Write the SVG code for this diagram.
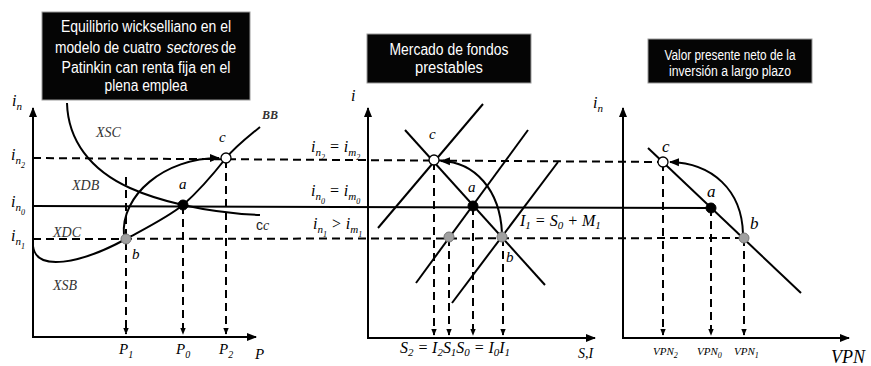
<svg xmlns="http://www.w3.org/2000/svg" width="871" height="366" viewBox="0 0 871 366">
<style>
.ax{stroke:#000;stroke-width:2;fill:none}
.ln{stroke:#000;stroke-width:2;fill:none}
.ds{stroke:#000;stroke-width:2;fill:none;stroke-dasharray:8 5}
.box{fill:#050505;stroke:#9a9a9a;stroke-width:1}
.tt{font-family:"Liberation Sans",Arial,sans-serif;fill:#fff;text-anchor:middle}
.ts{font-family:"Liberation Sans",Arial,sans-serif;fill:#fff}
.m{font-family:"Liberation Serif","DejaVu Serif",serif;font-style:italic;fill:#000}
.lb{font-family:"Liberation Serif","DejaVu Serif",serif;font-style:italic;fill:#333}
.pa{fill:#000;stroke:#000;stroke-width:1}
.pb{fill:#a0a0a0;stroke:#777;stroke-width:1}
.pc{fill:#fff;stroke:#000;stroke-width:1.3}
</style>
<defs>
<marker id="ah" viewBox="0 0 10 10" refX="9" refY="5" markerWidth="5" markerHeight="5" orient="auto"><path d="M0,1 L10,5 L0,9z" fill="#000"/></marker>
<marker id="as" viewBox="0 0 10 10" refX="9" refY="5" markerWidth="3.5" markerHeight="3.5" orient="auto"><path d="M0,1 L10,5 L0,9z" fill="#000"/></marker>
</defs>

<g id="titles">
<g id="title-left">
<rect class="box" x="42" y="12" width="208" height="88"/>
<text class="tt" x="146" y="32" font-size="16" textLength="170" lengthAdjust="spacingAndGlyphs">Equilibrio wickselliano en el</text>
<g transform="translate(55,53) scale(0.86,1)">
<text class="ts" x="0" y="0" font-size="16">modelo de cuatro</text>
<text class="ts" x="130" y="0" font-size="16" font-style="italic">sectores</text>
<text class="ts" x="193" y="0" font-size="16">de</text>
</g>
<text class="tt" x="146" y="73" font-size="16" textLength="169" lengthAdjust="spacingAndGlyphs">Patinkin can renta fija en el</text>
<text class="tt" x="146" y="91" font-size="16" textLength="83" lengthAdjust="spacingAndGlyphs">plena emplea</text>
</g>
<g id="title-mid">
<rect class="box" x="367" y="34" width="164" height="49"/>
<text class="tt" x="449" y="55" font-size="16" textLength="119" lengthAdjust="spacingAndGlyphs">Mercado de fondos</text>
<text class="tt" x="449" y="73" font-size="16" textLength="68" lengthAdjust="spacingAndGlyphs">prestables</text>
</g>
<g id="title-right">
<rect class="box" x="648" y="39" width="164" height="44"/>
<text class="tt" x="730" y="60" font-size="14" textLength="131" lengthAdjust="spacingAndGlyphs">Valor presente neto de la</text>
<text class="tt" x="730" y="76" font-size="14" textLength="122" lengthAdjust="spacingAndGlyphs">inversión a largo plazo</text>
</g>
</g>

<g id="connectors">
<path class="ds" d="M33,158 L663,162"/>
<path class="ln" d="M33,206 L711,208"/>
<path class="ds" d="M33,239 L744,238"/>
<path class="ds" d="M126,177 L126,334" marker-end="url(#as)"/>
<path class="ds" d="M183,206 L183,334" marker-end="url(#as)"/>
<path class="ds" d="M226,160 L226,334" marker-end="url(#as)"/>
<path class="ds" d="M434,162 L434,335" marker-end="url(#as)"/>
<path class="ds" d="M449,238 L449,335" marker-end="url(#as)"/>
<path class="ds" d="M473,207 L473,335" marker-end="url(#as)"/>
<path class="ds" d="M503,238 L503,335" marker-end="url(#as)"/>
<path class="ds" d="M663,163 L663,335" marker-end="url(#as)"/>
<path class="ds" d="M711,208 L711,335" marker-end="url(#as)"/>
<path class="ds" d="M744,238 L744,335" marker-end="url(#as)"/>
<path class="ln" d="M124,236 C120,195 165,158 219,158" marker-end="url(#ah)"/>
<path class="ln" d="M502,233 C500,190 475,162 441,161" marker-end="url(#ah)"/>
<path class="ln" d="M743,234 C742,190 712,163 670,162" marker-end="url(#ah)"/>
</g>

<g id="panel-left">
<path class="ax" d="M33,337 L33,108" marker-end="url(#ah)"/>
<path class="ax" d="M32,337 L256,337" marker-end="url(#ah)"/>
<path class="ln" d="M33,246 C36,272 80,264 126,239 C150,226 168,217 183,205 C200,190 215,172 226,158 C237,145 248,137 260,127"/>
<path class="ln" d="M67,103 C68,140 90,170 130,188 C150,197 165,201 183,205 C210,211 235,214 260,215"/>
<text class="m" x="12" y="106" font-size="16">i<tspan font-size="11" dy="4">n</tspan></text>
<text class="m" x="11" y="160" font-size="16">i<tspan font-size="11" dy="4">n</tspan><tspan font-size="8" dy="4">2</tspan></text>
<text class="m" x="11" y="207" font-size="16">i<tspan font-size="11" dy="4">n</tspan><tspan font-size="8" dy="4">0</tspan></text>
<text class="m" x="11" y="241" font-size="16">i<tspan font-size="11" dy="4">n</tspan><tspan font-size="8" dy="4">1</tspan></text>
<text class="lb" x="96" y="137" font-size="14">XSC</text>
<text class="lb" x="72" y="190" font-size="14">XDB</text>
<text class="lb" x="53" y="237" font-size="14">XDC</text>
<text class="lb" x="53" y="290" font-size="14">XSB</text>
<text class="lb" x="262" y="119" font-size="12" font-weight="bold">BB</text>
<text x="256" y="230" font-size="14" font-family="Liberation Sans,sans-serif" fill="#222">c<tspan font-family="Liberation Serif,serif" font-style="italic">c</tspan></text>
<text class="m" x="179" y="189" font-size="15">a</text>
<text class="m" x="219" y="142" font-size="15">c</text>
<text class="m" x="132" y="259" font-size="15">b</text>
<text class="m" x="119" y="354" font-size="15">P<tspan font-size="10" dy="4">1</tspan></text>
<text class="m" x="176" y="354" font-size="15">P<tspan font-size="10" dy="4">0</tspan></text>
<text class="m" x="219" y="354" font-size="15">P<tspan font-size="10" dy="4">2</tspan></text>
<text class="m" x="255" y="359" font-size="15">P</text>
<circle class="pb" cx="126" cy="239" r="5"/>
<circle class="pa" cx="183" cy="205" r="5"/>
<circle class="pc" cx="226" cy="158" r="5"/>
</g>

<g id="panel-mid">
<path class="ax" d="M368,338 L368,108" marker-end="url(#ah)"/>
<path class="ax" d="M367,338 L595,338" marker-end="url(#ah)"/>
<path class="ln" d="M405,130 L545,285"/>
<path class="ln" d="M378,228 L483,104"/>
<path class="ln" d="M416,283 L528,130"/>
<path class="ln" d="M452,303 L558,162"/>
<text class="m" x="351" y="101" font-size="16">i</text>
<text class="m" x="311" y="152" font-size="16">i<tspan font-size="11" dy="4">n</tspan><tspan font-size="8" dy="4">2</tspan><tspan dy="-8"> = i</tspan><tspan font-size="11" dy="4">m</tspan><tspan font-size="8" dy="4">2</tspan></text>
<text class="m" x="311" y="196" font-size="16">i<tspan font-size="11" dy="4">n</tspan><tspan font-size="8" dy="4">0</tspan><tspan dy="-8"> = i</tspan><tspan font-size="11" dy="4">m</tspan><tspan font-size="8" dy="4">0</tspan></text>
<text class="m" x="313" y="229" font-size="16">i<tspan font-size="11" dy="4">n</tspan><tspan font-size="8" dy="4">1</tspan><tspan dy="-8"> &gt; i</tspan><tspan font-size="11" dy="4">m</tspan><tspan font-size="8" dy="4">1</tspan></text>
<text class="m" x="520" y="226" font-size="16">I<tspan font-size="11" dy="3">1</tspan><tspan dy="-3"> = S</tspan><tspan font-size="11" dy="3">0</tspan><tspan dy="-3"> + M</tspan><tspan font-size="11" dy="3">1</tspan></text>
<text class="m" x="429" y="139" font-size="15">c</text>
<text class="m" x="468" y="192" font-size="15">a</text>
<text class="m" x="506" y="262" font-size="15">b</text>
<text class="m" x="400" y="353" font-size="16" textLength="110" lengthAdjust="spacingAndGlyphs">S<tspan font-size="11" dy="3">2</tspan><tspan dy="-3"> = I</tspan><tspan font-size="11" dy="3">2</tspan><tspan dy="-3">S</tspan><tspan font-size="11" dy="3">1</tspan><tspan dy="-3">S</tspan><tspan font-size="11" dy="3">0</tspan><tspan dy="-3"> = I</tspan><tspan font-size="11" dy="3">0</tspan><tspan dy="-3">I</tspan><tspan font-size="11" dy="3">1</tspan></text>
<text class="m" x="578" y="358" font-size="14">S,I</text>
<circle class="pc" cx="434" cy="160" r="5"/>
<circle class="pa" cx="473" cy="206" r="5"/>
<circle class="pb" cx="449" cy="237" r="5"/>
<circle class="pb" cx="502" cy="237" r="5"/>
</g>

<g id="panel-right">
<path class="ax" d="M623,338 L623,108" marker-end="url(#ah)"/>
<path class="ax" d="M622,338 L849,338" marker-end="url(#ah)"/>
<path class="ln" d="M648,148 L801,293"/>
<text class="m" x="593" y="108" font-size="16">i<tspan font-size="11" dy="4">n</tspan></text>
<text class="m" x="662" y="152" font-size="17">c</text>
<text class="m" x="707" y="197" font-size="17">a</text>
<text class="m" x="750" y="229" font-size="17">b</text>
<text class="m" x="653" y="355" font-size="11">VPN<tspan font-size="8" dy="3">2</tspan></text>
<text class="m" x="697" y="355" font-size="11">VPN<tspan font-size="8" dy="3">0</tspan></text>
<text class="m" x="734" y="355" font-size="11">VPN<tspan font-size="8" dy="3">1</tspan></text>
<text class="m" x="831" y="363" font-size="18">VPN</text>
<circle class="pc" cx="663" cy="162" r="5"/>
<circle class="pa" cx="711" cy="208" r="5"/>
<circle class="pb" cx="744" cy="238" r="5"/>
</g>
</svg>
